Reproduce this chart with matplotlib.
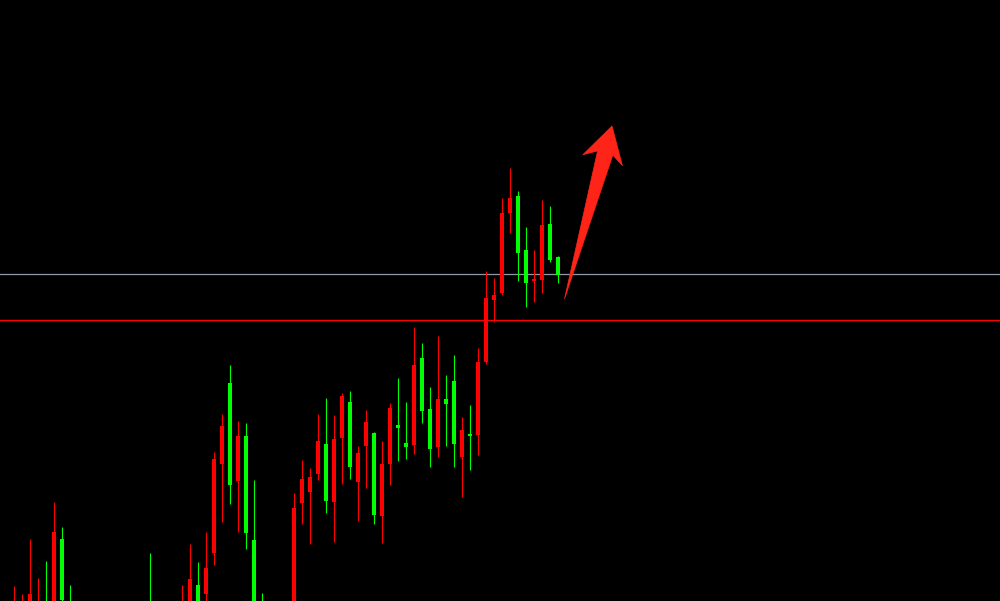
import matplotlib
matplotlib.use("Agg")
import matplotlib.pyplot as plt
import numpy as np
from matplotlib.patches import Polygon
from matplotlib.transforms import IdentityTransform

# ---- data (price units; bar index 0..68) ----
opens = [-20, -15, -10, -12, -5, -10, 62, -5,
         -30, -28, -35, -25, -30, -40, -32, -28, -20,
         -5, -15, -20, -18,
         16 - 30, -5, 16, 7, 48, 137, 218, 120, 165, 61, -2,
         -30, -25, -15,
         -10, 98, 109, 127, 157, 99, 163, 199, 119, 155, 168, 85, 137, 176, 158,
         156, 243, 192, 154, 202, 220, 144, 167, 166, 239, 301, 308, 388, 405, 351,
         320, 321, 377, 344]
highs = [15, 7, 62, 23, 40, 99, 74, 16,
         -15, -12, -20, -10, -18, -25, -15, -10, -3,
         48, -5, -8, -6,
         16, 57, 39, 69, 149, 187, 236, 180, 178, 121, 8,
         -15, -10, -2,
         108, 141, 133, 187, 203, 186, 208, 210, 155, 191, 169, 160, 198, 223, 199,
         274, 258, 214, 265, 226, 246, 184, 196, 253, 330, 323, 403, 433, 410, 374,
         351, 401, 395, 345]
lows = [-30, -25, -20, -25, -30, -20, -10, -30,
        -45, -40, -50, -40, -45, -55, -45, -40, -35,
        -25, -30, -35, -30,
        -25, -10, -20, -5, 36, 79, 97, 69, 52, -20, -25,
        -45, -40, -30,
        -20, 77, 57, 121, 88, 59, 117, 122, 80, 113, 77, 58, 116, 140, 142,
        147, 178, 134, 144, 155, 134, 104, 131, 146, 237, 279, 306, 368, 320, 294,
        299, 308, 339, 318]
closes = [-5, -2, 7, -3, -20, 69, 1, -20,
          -28, -35, -25, -30, -40, -32, -28, -20, -5,
          -15, -20, -18, -14,
          -10, 22, -10, 33, 142, 175, 116, 165, 68, -10, -15,
          -25, -15, -10,
          93, 122, 124, 160, 100, 162, 205, 134, 148, 179, 86, 137, 193, 173, 154,
          236, 190, 152, 202, 197, 157, 171, 165, 239, 303, 306, 388, 403, 348, 318,
          322, 376, 341, 326]

resistance_level = 326.7   # grey line
support_level = 280.7      # red line
arrow_tail = (68.81, 302)
arrow_tip = (74.75, 475)

up_color = "#ff0000"
down_color = "#00ff00"

fig = plt.figure(figsize=(10, 6.01), dpi=100, facecolor="#000000")
ax = fig.add_axes([0, 0, 1, 1])
ax.set_facecolor("#000000")

n = len(opens)
idx = np.arange(n)
o = np.array(opens, float); h = np.array(highs, float)
l = np.array(lows, float); c = np.array(closes, float)
up = c >= o
cols = np.where(up, up_color, down_color)

ax.vlines(idx, l, h, colors=cols, linewidth=0.8, zorder=2)
body_bottom = np.minimum(o, c)
body_height = np.maximum(np.abs(c - o), 1.8)
ax.bar(idx, body_height, bottom=body_bottom, width=0.6, color=cols,
       edgecolor="none", linewidth=0, zorder=3)

ax.axhline(resistance_level, color="#8e98a8", linewidth=0.9, zorder=1)
ax.axhline(support_level, color="#ff0000", linewidth=1.0, zorder=1)

ax.set_xlim(-1.75, 123.25)
ax.set_ylim(0, 601)
ax.axis("off")

# ---- arrow annotation built in display space ----
fig.canvas.draw()
T = ax.transData.transform(arrow_tail)
P = ax.transData.transform(arrow_tip)
d = P - T
L = np.hypot(*d)
u = d / L
nrm = np.array([u[1], -u[0]])
def pt(along, across):
    return T + u * along + nrm * across
verts = [pt(0, 0), pt(151.5, -7.3), pt(144, -20.5), P,
         pt(144, 20.5), pt(151.5, 8.5)]
ax.add_patch(Polygon(verts, closed=True, transform=IdentityTransform(),
                     facecolor="#ff2418", edgecolor="#ff2418", linewidth=0.5,
                     zorder=5))

fig.savefig("out.png", dpi=100, facecolor="#000000")
